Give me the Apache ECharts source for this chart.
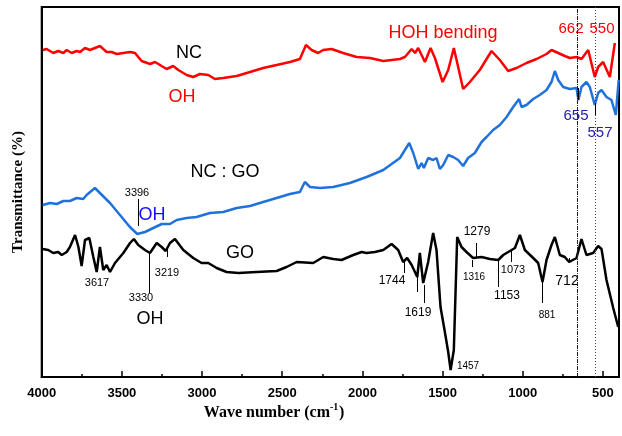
<!DOCTYPE html>
<html><head><meta charset="utf-8">
<script src="https://cdn.jsdelivr.net/npm/echarts@6/dist/echarts.min.js"></script>
<style>html,body{margin:0;padding:0;background:#fff}#c{width:622px;height:436px}</style>
</head><body><div id="c"></div>
<script>
// Wavenumber ticks
const majorTicks = [4000, 3500, 3000, 2500, 2000, 1500, 1000, 500];
const minorTicks = [3750, 3250, 2750, 2250, 1750, 1250, 750];

// NC (red)
const ncX = [3994,3969,3928,3897,3865,3844,3813,3782,3761,3730,3699,3637,3595,3564,3532,3491,3449,3418,3377,3324,3293,3252,3221,3180,3148,3096,3055,3013,2961,2920,2868,2784,2701,2619,2535,2452,2390,2352,2317,2276,2245,2192,2120,2036,1953,1870,1766,1735,1693,1672,1652,1610,1575,1548,1500,1465,1430,1403,1372,1330,1268,1195,1143,1091,1039,977,914,852,821,779,738,707,665,634,592,551,530,499,457,426];
const ncY = [327,328,324,326,324,327,324,326,325,329,327,331,325,325,323,324,325,324,316,313,315,311,308,311,307,302,300,303,302,298,299,301,305,309,312,315,318,332,327,324,327,328,324,320,319,316,318,320,328,324,329,315,329,319,295,307,329,310,288,295,307,326,317,306,309,314,318,323,327,324,321,319,320,318,327,300,310,315,300,334];

// NC : GO (blue)
const ncgoX = [3994,3948,3906,3865,3824,3782,3741,3720,3668,3637,3574,3512,3450,3404,3356,3304,3252,3200,3158,3096,3034,2951,2868,2784,2701,2619,2535,2452,2390,2359,2327,2265,2182,2078,1974,1870,1766,1708,1683,1652,1631,1617,1590,1559,1538,1517,1496,1465,1434,1403,1372,1341,1299,1257,1226,1185,1143,1101,1060,1023,1008,977,935,894,852,821,800,779,748,707,665,653,634,603,582,551,530,509,478,447,420,402];
const ncgoY = [172,174,173,176,176,179,178,182,189,184,174,162,150,143,145,149,153,153,157,159,160,164,165,169,171,175,179,183,185,195,190,189,190,194,200,207,219,234,224,208,214,209,219,217,219,208,212,222,220,217,211,219,224,235,240,247,252,260,270,278,270,272,278,282,287,295,306,297,290,288,289,277,290,295,290,272,284,287,280,277,262,297];

// GO (black)
const goX = [3994,3959,3928,3897,3875,3844,3824,3792,3771,3751,3730,3703,3678,3657,3637,3616,3595,3574,3543,3491,3449,3425,3398,3356,3325,3283,3252,3227,3200,3169,3117,3055,3003,2961,2909,2847,2774,2660,2535,2473,2410,2307,2244,2182,2130,2057,2005,1974,1922,1870,1818,1777,1746,1721,1693,1658,1642,1621,1590,1559,1538,1513,1488,1465,1450,1430,1409,1382,1351,1310,1257,1205,1153,1122,1080,1049,1018,987,935,904,877,852,821,800,769,738,711,665,634,603,561,530,509,478,436,405];
const goY = [128,127,124,125,122,125,130,142,130,111,137,139,120,105,130,107,112,105,114,124,134,138,132,127,124,134,130,126,134,138,127,119,114,114,109,105,104,105,106,110,115,114,120,118,117,122,125,124,125,127,133,127,115,119,112,100,124,94,115,144,127,70,47,25,7,27,140,130,125,119,120,118,117,122,126,129,142,127,119,114,95,117,132,140,122,120,115,119,138,122,124,131,128,97,69,50];

const zip = (xs, ys) => xs.map((x, i) => [x, ys[i]]);

const seg = (x, y1, y2) => [{coord: [x, y1]}, {coord: [x, y2]}];
const goPeakLines = [seg(3396,178,151), seg(3329,124,84), seg(3219,129,120), seg(1741,115,104), seg(1656,100,85), seg(1617,92,74), seg(1288,134,119), seg(1316,117,110), seg(1151,117,90), seg(1073,127,115), seg(879,95,74), seg(711,119,114)];
const ncgoPeakLines = [seg(652,289,277), seg(551,274,262)];

const chart = echarts.init(document.getElementById('c'));
const lab = (text, x, y, color, size) => ({type: 'text', x: x, y: y, style: {text: text, fill: color, font: size + 'px "Liberation Sans", Arial, sans-serif', textAlign: 'center', textVerticalAlign: 'middle'}});

chart.setOption({
  animation: false,
  grid: {left: 41.7, right: 3, top: 7, bottom: 59, show: true, borderColor: '#000', borderWidth: 2},
  xAxis: [{
    type: 'value', min: 400, max: 4000, inverse: true,
    axisLine: {show: true, lineStyle: {color: '#000', width: 2}},
    axisTick: {show: true, inside: true, length: 6, customValues: majorTicks, lineStyle: {color: '#000', width: 1.5}},
    axisLabel: {customValues: majorTicks, formatter: v => String(v), color: '#000', fontWeight: 'bold', fontSize: 13, fontFamily: '"Liberation Sans", Arial, sans-serif', margin: 10},
    splitLine: {show: false}
  }, {
    type: 'value', min: 400, max: 4000, inverse: true, position: 'bottom',
    axisLine: {show: false},
    axisTick: {show: true, inside: true, length: 3, customValues: minorTicks, lineStyle: {color: '#000', width: 1.5}},
    axisLabel: {show: false}, splitLine: {show: false}
  }],
  yAxis: {
    type: 'value', min: 0, max: 370,
    axisLine: {show: true, lineStyle: {color: '#000', width: 2}},
    axisTick: {show: false}, axisLabel: {show: false}, splitLine: {show: false}
  },
  series: [
    {type: 'line', name: 'NC', data: zip(ncX, ncY), showSymbol: false, lineStyle: {color: '#ff0000', width: 2.5}, itemStyle: {color: '#ff0000'},
     markLine: {silent: true, symbol: 'none', label: {show: false},
       data: [{xAxis: 658, lineStyle: {color: '#222', width: 1, type: [4, 1, 1, 1]}}, {xAxis: 546, lineStyle: {color: '#444', width: 1, type: [1, 2]}}]}},
    {type: 'line', name: 'NC : GO', data: zip(ncgoX, ncgoY), showSymbol: false, lineStyle: {color: '#1f72dc', width: 2.5}, itemStyle: {color: '#1f72dc'},
     markLine: {silent: true, symbol: 'none', label: {show: false}, lineStyle: {color: '#000', width: 1, type: 'solid'}, data: ncgoPeakLines}},
    {type: 'line', name: 'GO', data: zip(goX, goY), showSymbol: false, lineStyle: {color: '#000', width: 2.5}, itemStyle: {color: '#000'},
     markLine: {silent: true, symbol: 'none', label: {show: false}, lineStyle: {color: '#000', width: 1, type: 'solid'}, data: goPeakLines}}
  ],
  graphic: [
    lab('NC', 189, 53, '#000', 18),
    lab('OH', 182, 97, '#ff0000', 18),
    lab('HOH bending', 443, 33, '#ff0000', 18),
    lab('662', 571, 29, '#ff0000', 15),
    lab('550', 602, 29, '#ff0000', 15),
    lab('655', 576, 116, '#2222aa', 15),
    lab('557', 600, 133, '#2222aa', 15),
    lab('NC : GO', 225, 172, '#000', 18),
    lab('3396', 137, 193, '#000', 11),
    lab('OH', 152, 215, '#1010ff', 18),
    lab('GO', 240, 253, '#000', 18),
    lab('3617', 97, 283, '#000', 11),
    lab('3330', 141, 298, '#000', 11),
    lab('3219', 167, 273, '#000', 11),
    lab('OH', 150, 319, '#000', 18),
    lab('1744', 392, 281, '#000', 12),
    lab('1619', 418, 313, '#000', 12),
    lab('1457', 468, 366, '#000', 10),
    lab('1279', 477, 232, '#000', 12),
    lab('1316', 474, 277, '#000', 10),
    lab('1153', 507, 296, '#000', 12),
    lab('1073', 513, 270, '#000', 11),
    lab('881', 547, 315, '#000', 10),
    lab('712', 567, 281, '#000', 14),
    {type: 'text', x: 18, y: 192, rotation: Math.PI / 2, style: {text: 'Transmittance (%)', fill: '#000', font: 'bold 15px "Liberation Serif", "Times New Roman", serif', textAlign: 'center', textVerticalAlign: 'middle'}},
    {type: 'text', x: 330, y: 413, style: {text: 'Wave number (cm', fill: '#000', font: 'bold 16px "Liberation Serif", "Times New Roman", serif', textAlign: 'right', textVerticalAlign: 'middle'}},
    {type: 'text', x: 330, y: 407, style: {text: '-1', fill: '#000', font: 'bold 10px "Liberation Serif", "Times New Roman", serif', textAlign: 'left', textVerticalAlign: 'middle'}},
    {type: 'text', x: 339, y: 413, style: {text: ')', fill: '#000', font: 'bold 16px "Liberation Serif", "Times New Roman", serif', textAlign: 'left', textVerticalAlign: 'middle'}}
  ]
});
</script>
</body></html>
